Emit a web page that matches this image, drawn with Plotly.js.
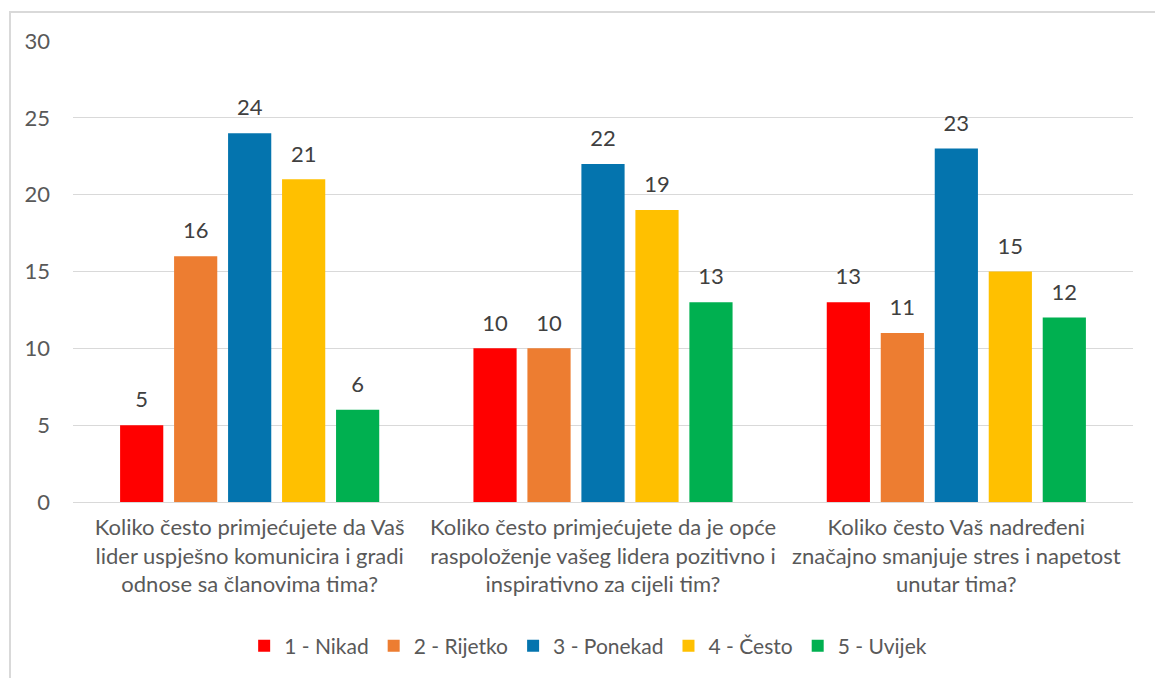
<!DOCTYPE html>
<html>
<head>
<meta charset="utf-8">
<script src="https://cdn.plot.ly/plotly-3.0.1.min.js"></script>
<style>
  html, body { margin: 0; padding: 0; background: #fff; }
  #wrap { position: relative; width: 1155px; height: 678px; overflow: hidden; }
  #frame { position: absolute; left: 9px; top: 11px; width: 1160px; height: 700px; border: 2px solid #d9d9d9; box-sizing: border-box; }
  #chart { position: absolute; left: 0; top: 0; width: 1155px; height: 678px; }
</style>
</head>
<body>
<div id="wrap">
  <div id="frame"></div>
  <div id="chart"></div>
</div>
<script>
const categories = [
  "Koliko često primjećujete da Vaš<br>lider uspješno komunicira i gradi<br>odnose sa članovima tima?",
  "Koliko često primjećujete da je opće<br>raspoloženje vašeg lidera pozitivno i<br>inspirativno za cijeli tim?",
  "Koliko često Vaš nadređeni<br>značajno smanjuje stres i napetost<br>unutar tima?"
];
const seriesNames = ["1 - Nikad", "2 - Rijetko", "3 - Ponekad", "4 - Često", "5 - Uvijek"];
const nikad   = [5, 10, 13];
const rijetko = [16, 10, 11];
const ponekad = [24, 22, 23];
const cesto   = [21, 19, 15];
const uvijek  = [6, 13, 12];
const seriesValues = [nikad, rijetko, ponekad, cesto, uvijek];
const seriesColors = ["#FF0000", "#ED7D31", "#0474AE", "#FFC000", "#00B050"];
const yTicks = [0, 5, 10, 15, 20, 25, 30];

const FONT = "Lato, 'Open Sans', sans-serif";
const TXT = "#595959";

const bars = seriesNames.map((name, i) => ({
  type: "bar",
  name: name,
  x: categories,
  y: seriesValues[i],
  offsetgroup: "g" + i,
  alignmentgroup: "a",
  marker: { color: seriesColors[i] },
  hoverinfo: "none"
}));

const labels = seriesNames.map((name, i) => ({
  type: "scatter",
  mode: "markers+text",
  name: name + " labels",
  showlegend: false,
  x: categories,
  y: seriesValues[i],
  offsetgroup: "g" + i,
  alignmentgroup: "a",
  marker: { size: 18, opacity: 0, color: "#fff" },
  text: seriesValues[i].map(String),
  textposition: "top center",
  textfont: { family: FONT, size: 22, color: "#404040" },
  cliponaxis: false,
  hoverinfo: "none"
}));

const layout = {
  width: 1155,
  height: 678,
  paper_bgcolor: "rgba(0,0,0,0)",
  plot_bgcolor: "rgba(0,0,0,0)",
  margin: { l: 73, r: 22, t: 41, b: 175 },
  barmode: "group",
  scattermode: "group",
  bargap: 0.236,
  bargroupgap: 0.2,
  scattergap: 0.236,
  font: { family: FONT, size: 22, color: TXT },
  xaxis: {
    type: "category",
    showgrid: false,
    showline: false,
    zeroline: false,
    ticks: "",
    tickangle: 0,
    ticklabelstandoff: 10,
    tickfont: { family: FONT, size: 22, color: TXT },
    automargin: false
  },
  yaxis: {
    range: [0, 30],
    tickvals: yTicks,
    ticktext: yTicks.map(String),
    showgrid: true,
    gridcolor: "#d9d9d9",
    gridwidth: 1,
    zeroline: true,
    zerolinecolor: "#d9d9d9",
    zerolinewidth: 1,
    showline: false,
    ticks: "",
    ticklabelstandoff: 22,
    tickfont: { family: FONT, size: 22, color: TXT },
    automargin: false
  },
  showlegend: true,
  legend: {
    orientation: "h",
    x: 0.486,
    xanchor: "center",
    y: -0.31,
    yanchor: "middle",
    font: { family: FONT, size: 21, color: TXT },
    traceorder: "normal"
  }
};

Plotly.newPlot("chart", bars.concat(labels), layout, { displayModeBar: false, staticPlot: true });
</script>
</body>
</html>
